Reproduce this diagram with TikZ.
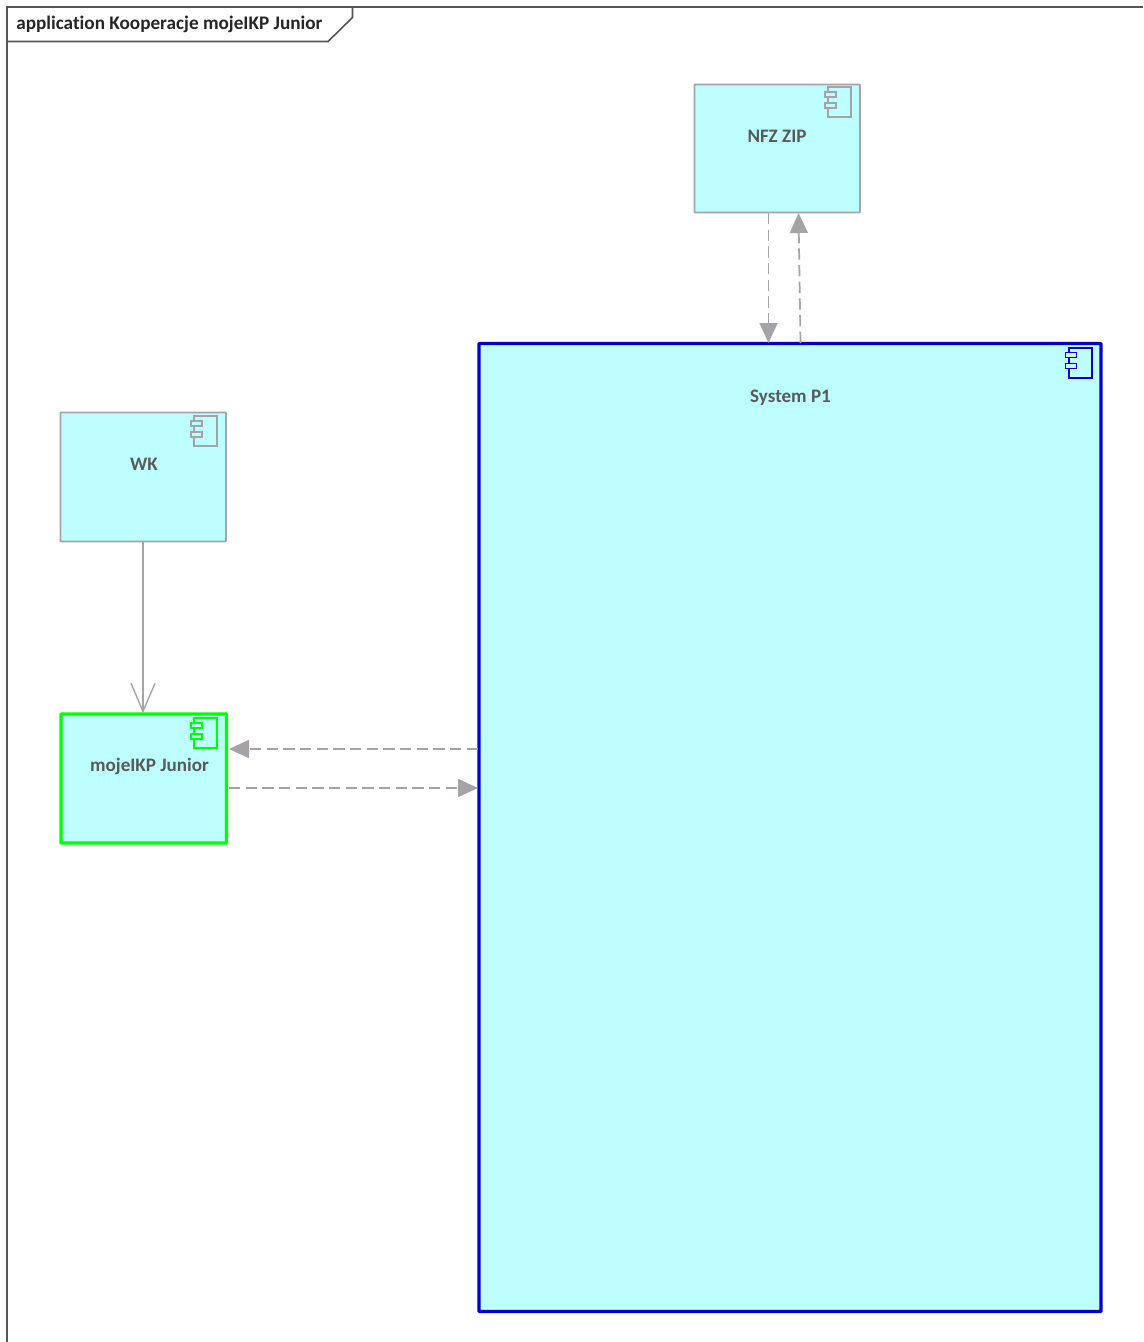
\documentclass[tikz,border=0pt]{standalone}
\usepackage{fontspec}
\setmainfont[Ligatures=NoCommon]{Carlito}
\usetikzlibrary{arrows.meta}
\definecolor{boxfill}{RGB}{189,255,255}
\definecolor{linegray}{RGB}{165,163,168}
\definecolor{framegray}{RGB}{85,85,85}
\definecolor{txtgray}{RGB}{90,90,90}
\definecolor{pgreen}{RGB}{0,255,0}
\definecolor{pblue}{RGB}{0,0,205}
\newcommand{\compicon}[3]{% top right x,y ; colour
  \draw[#3,line width=1.5pt,fill=boxfill] (#1-23,#2) rectangle (#1,#2+30);
  \draw[#3,line width=1.2pt,fill=boxfill] (#1-26,#2+5) rectangle (#1-15,#2+10);
  \draw[#3,line width=1.2pt,fill=boxfill] (#1-26,#2+16) rectangle (#1-15,#2+21);
}
\tikzset{
  x=0.75pt,y=-0.75pt,
  comp/.style={draw=linegray,fill=boxfill,line width=1.3pt,rounded corners=0.5pt,anchor=north west,inner sep=0pt,outer sep=0pt},
  lab/.style={text=txtgray,font=\fontsize{14.3pt}{16pt}\selectfont\bfseries,inner sep=0pt},
  dep/.style={draw=linegray,line width=1.3pt,dash pattern=on 8.5pt off 4pt,-{Triangle[length=15pt,width=13.5pt,fill=linegray]}},
  assoc/.style={draw=linegray,line width=1.3pt,-{Straight Barb[length=21pt,width=18pt,line width=1pt]}}
}
\begin{document}
\begin{tikzpicture}
\useasboundingbox (0,0) rectangle (1143,1342);
\fill[white] (0,0) rectangle (1143,1342);
% frame
\draw[framegray,line width=1.2pt] (1143,7) -- (7,7) -- (7,1342);
\draw[framegray,line width=1.2pt] (7,41.5) -- (328,41.5) -- (352.5,17.5) -- (352.5,7);
\node[anchor=west,text=black!85,font=\fontsize{14.4pt}{16pt}\selectfont,inner sep=0pt] (title) at (16,24.5) {\textbf{application Kooperacje mojeIKP Junior}};
% boxes
\node[comp,minimum width=165.5*0.75pt,minimum height=128*0.75pt] (nfz) at (694.5,84.5) {};
\node[comp,minimum width=165.5*0.75pt,minimum height=129*0.75pt] (wk) at (60.5,412.5) {};
\node[comp,draw=pgreen,line width=2.4pt,minimum width=165.5*0.75pt,minimum height=129*0.75pt] (moje) at (61,714) {};
\node[comp,draw=pblue,line width=2.4pt,minimum width=622*0.75pt,minimum height=968*0.75pt] (p1) at (479,343.5) {};
% icons
\compicon{851}{87}{linegray}
\compicon{217}{416}{linegray}
\compicon{217}{718}{pgreen}
\compicon{1091.5}{347.5}{pblue}
% labels
\node[lab] (nfzl) at (777,136.5) {NFZ ZIP};
\node[lab] (wkl) at (144,464) {WK};
\node[lab] (mojel) at (149.5,766.5) {mojeIKP Junior};
\node[lab] (p1l) at (790.5,397.5) {System P1};
% connector end points
\coordinate (nfzA) at (768.5,213);
\coordinate (p1A) at (768.5,343);
\coordinate (p1B) at (800.5,343);
\coordinate (nfzB) at (798.5,213);
\coordinate (wkS) at (143,541.5);
\coordinate (mojeN) at (143,713);
\coordinate (p1C) at (478,749);
\coordinate (mojeC) at (229,749);
\coordinate (mojeD) at (229,788);
\coordinate (p1D) at (478,788);
\draw[dep] (nfzA) -- (p1A);
\draw[dep] (p1B) -- (nfzB);
\draw[assoc] (wkS) -- (mojeN);
\draw[dep] (p1C) -- (mojeC);
\draw[dep] (mojeD) -- (p1D);
\end{tikzpicture}
\end{document}
